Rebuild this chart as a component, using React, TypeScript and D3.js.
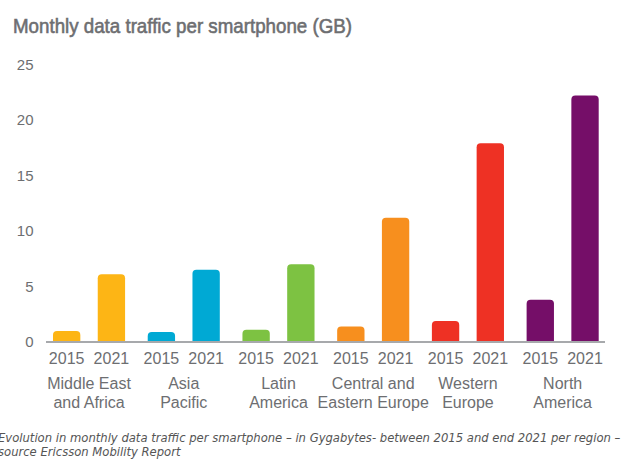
import React from "react";
import * as d3 from "d3";

const title = "Monthly data traffic per smartphone (GB)";
const regions = [
  "Middle East and Africa",
  "Asia Pacific",
  "Latin America",
  "Central and Eastern Europe",
  "Western Europe",
  "North America",
];
const regionLabelLines = [
  ["Middle East", "and Africa"],
  ["Asia", "Pacific"],
  ["Latin", "America"],
  ["Central and", "Eastern Europe"],
  ["Western", "Europe"],
  ["North", "America"],
];
const years = ["2015", "2021"];
const values2015 = [1.0, 0.9, 1.1, 1.4, 1.9, 3.8];
const values2021 = [6.1, 6.5, 7.0, 11.2, 17.9, 22.2];
const regionColors = ["#fdb515", "#00a9d4", "#7dc242", "#f78f1e", "#ee3124", "#750e68"];
const yTicks = [0, 5, 10, 15, 20, 25];
const captionLines = [
  "Evolution in monthly data traffic per smartphone – in Gygabytes- between 2015 and end 2021 per region –",
  "source Ericsson Mobility Report",
];

const W = 640;
const H = 469;
const TEXT = "#6d6e71";
const FONT = "'Liberation Sans', Arial, Helvetica, sans-serif";

function topRoundedRect(x: number, y: number, w: number, h: number, r: number) {
  const rr = Math.min(r, w / 2, h);
  const p = d3.path();
  p.moveTo(x, y + h);
  p.lineTo(x, y + rr);
  p.arcTo(x, y, x + rr, y, rr);
  p.lineTo(x + w - rr, y);
  p.arcTo(x + w, y, x + w, y + rr, rr);
  p.lineTo(x + w, y + h);
  p.closePath();
  return p.toString();
}

export default function App() {
  const x0 = d3.scaleBand<string>().domain(regions).range([53, 598.7]).paddingInner(0.239).paddingOuter(0);
  const x1 = d3.scaleBand<string>().domain(years).range([0, x0.bandwidth()]).paddingInner(0.389).paddingOuter(0);
  const y = d3.scaleLinear().domain([0, 25]).range([342, 64.5]);

  const bars: { region: string; year: string; value: number; color: string }[] = [];
  regions.forEach((r, i) => {
    bars.push({ region: r, year: years[0], value: values2015[i], color: regionColors[i] });
    bars.push({ region: r, year: years[1], value: values2021[i], color: regionColors[i] });
  });

  return (
    <svg
      width={W}
      height={H}
      style={{ position: "fixed", left: 0, top: 0, background: "#fff", display: "block" }}
    >
      <text
        x={13}
        y={33}
        fill={TEXT}
        stroke={TEXT}
        strokeWidth={0.6}
        fontFamily={FONT}
        fontSize={21}
        textLength={339}
        lengthAdjust="spacingAndGlyphs"
      >
        {title}
      </text>

      {yTicks.map((t) => (
        <text
          key={t}
          x={33.5}
          y={y(t)}
          dy="0.35em"
          textAnchor="end"
          fill={TEXT}
          fontFamily={FONT}
          fontSize={15}
        >
          {t}
        </text>
      ))}

      {bars.map((b) => {
        const bx = (x0(b.region) ?? 0) + (x1(b.year) ?? 0);
        const by = y(b.value);
        return (
          <path
            key={b.region + b.year}
            d={topRoundedRect(bx, by, x1.bandwidth(), y(0) - by, 4)}
            fill={b.color}
          />
        );
      })}

      <line x1={46} x2={605} y1={y(0)} y2={y(0)} stroke="#a7a9ac" strokeWidth={2} />

      {bars.map((b) => {
        const cx = (x0(b.region) ?? 0) + (x1(b.year) ?? 0) + x1.bandwidth() / 2;
        return (
          <text
            key={"yl" + b.region + b.year}
            x={cx}
            y={364}
            textAnchor="middle"
            fill={TEXT}
            fontFamily={FONT}
            fontSize={16}
          >
            {b.year}
          </text>
        );
      })}

      {regions.map((r, i) => {
        const cx = (x0(r) ?? 0) + x0.bandwidth() / 2;
        return (
          <text key={"rl" + r} textAnchor="middle" fill={TEXT} fontFamily={FONT} fontSize={16}>
            {regionLabelLines[i].map((line, j) => (
              <tspan key={j} x={cx} y={389 + j * 19}>
                {line}
              </tspan>
            ))}
          </text>
        );
      })}

      {captionLines.map((line, i) => (
        <text
          key={"cap" + i}
          x={-2}
          y={442 + i * 14}
          fill="#555"
          fontFamily="'DejaVu Sans', Verdana, sans-serif"
          fontStyle="italic"
          fontSize={11.6}
        >
          {line}
        </text>
      ))}
    </svg>
  );
}
